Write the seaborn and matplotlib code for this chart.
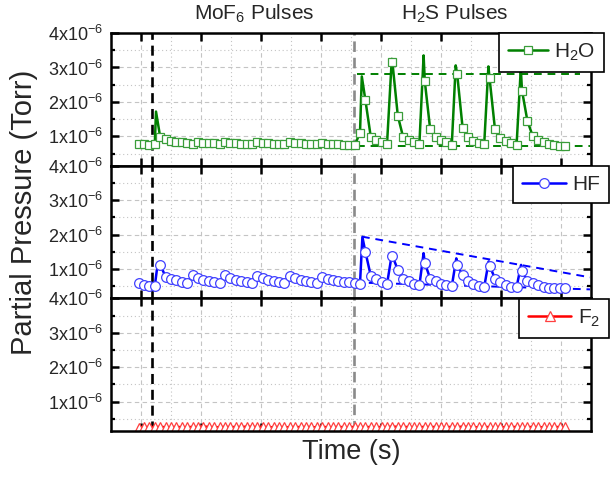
import matplotlib
matplotlib.use("Agg")
import matplotlib.pyplot as plt
from matplotlib.lines import Line2D
from matplotlib.ticker import MultipleLocator, FuncFormatter
import pandas as pd
import seaborn as sns

# ---------------- data (pressures in units of 1e-6 Torr, time in s) ----------------
TIME = [-40, 50, 140, 230, 320, 410, 500, 590, 680, 770,
        860, 950, 1040, 1130, 1220, 1310, 1400, 1490, 1580, 1670,
        1760, 1850, 1940, 2030, 2120, 2210, 2300, 2390, 2480, 2570,
        2660, 2750, 2840, 2930, 3020, 3110, 3200, 3290, 3380, 3470,
        3560, 3650, 3740, 3830, 3920, 4010, 4100, 4190, 4280, 4370,
        4460, 4550, 4640, 4730, 4820, 4910, 5000, 5090, 5180, 5270,
        5360, 5450, 5540, 5630, 5720, 5810, 5900, 5990, 6080, 6170,
        6260, 6350, 6440, 6530, 6620, 6710, 6800, 6890, 6980, 7070]

H2O = [0.78, 0.78, 0.76, 0.79, 0.98, 0.93, 0.88, 0.85, 0.83, 0.80,
       0.77, 0.84, 0.82, 0.81, 0.80, 0.79, 0.85, 0.82, 0.80, 0.79,
       0.78, 0.77, 0.83, 0.81, 0.80, 0.79, 0.78, 0.77, 0.83, 0.81,
       0.80, 0.79, 0.78, 0.77, 0.81, 0.79, 0.78, 0.77, 0.76, 0.76,
       0.74, 1.10, 2.05, 0.98, 0.90, 0.83, 0.77, 3.15, 1.60, 0.97,
       0.90, 0.83, 0.78, 2.60, 1.20, 0.97, 0.90, 0.83, 0.76, 2.80,
       1.25, 0.97, 0.88, 0.82, 0.77, 2.68, 1.20, 0.95, 0.87, 0.81,
       0.76, 2.33, 1.45, 1.00, 0.90, 0.84, 0.79, 0.75, 0.72, 0.71]

HF = [0.60, 0.54, 0.51, 0.51, 1.12, 0.78, 0.72, 0.67, 0.62, 0.59,
      0.84, 0.74, 0.68, 0.64, 0.61, 0.59, 0.82, 0.74, 0.68, 0.64,
      0.61, 0.59, 0.80, 0.73, 0.68, 0.64, 0.61, 0.59, 0.80, 0.73,
      0.68, 0.64, 0.61, 0.59, 0.78, 0.72, 0.67, 0.64, 0.62, 0.61,
      0.60, 0.58, 1.50, 0.80, 0.70, 0.63, 0.56, 1.38, 0.98, 0.72,
      0.64, 0.58, 0.53, 1.18, 0.72, 0.64, 0.58, 0.53, 0.50, 1.12,
      0.82, 0.64, 0.56, 0.50, 0.48, 1.10, 0.72, 0.62, 0.54, 0.49,
      0.48, 0.95, 0.66, 0.60, 0.53, 0.49, 0.46, 0.45, 0.45, 0.44]

F2 = [0.25, 0.26, 0.27, 0.26, 0.27, 0.26, 0.26, 0.27, 0.26, 0.26,
      0.27, 0.26, 0.28, 0.27, 0.26, 0.26, 0.27, 0.26, 0.27, 0.26,
      0.28, 0.27, 0.26, 0.27, 0.26, 0.26, 0.27, 0.26, 0.26, 0.27,
      0.26, 0.27, 0.26, 0.26, 0.27, 0.26, 0.26, 0.27, 0.26, 0.26,
      0.27, 0.26, 0.27, 0.26, 0.26, 0.27, 0.26, 0.28, 0.27, 0.26,
      0.27, 0.26, 0.26, 0.27, 0.26, 0.27, 0.26, 0.26, 0.27, 0.26,
      0.28, 0.27, 0.26, 0.26, 0.27, 0.26, 0.26, 0.27, 0.26, 0.26,
      0.27, 0.26, 0.26, 0.27, 0.26, 0.26, 0.26, 0.27, 0.26, 0.26]

# spike maxima (line only, no marker)
H2O_PEAK_T = [250, 3680, 4180, 4710, 5245, 5790, 6330]
H2O_PEAK = [1.72, 2.74, 3.25, 3.35, 3.06, 3.03, 2.97]
HF_PEAK_T = [265, 3690, 4180, 4710, 5255, 5795, 6335]
HF_PEAK = [0.98, 1.93, 1.42, 1.46, 1.31, 1.22, 1.12]

# dashed envelope guides
H2O_UPPER_T = [3600, 7320]
H2O_UPPER = [2.82, 2.82]
H2O_LOWER_T = [3600, 7483]
H2O_LOWER = [0.73, 0.73]
HF_UPPER_T = [3683, 7483]
HF_UPPER = [1.94, 0.76]
HF_LOWER_T = [3570, 7483]
HF_LOWER = [0.61, 0.41]

MOF6_START = 183
H2S_START = 3550

Y_TICKS = [1, 2, 3, 4]

# ---------------- style ----------------
sns.set_theme(style="white")
FONT = ["Liberation Sans", "DejaVu Sans"]
plt.rcParams["font.family"] = FONT
plt.rcParams["mathtext.fontset"] = "custom"
plt.rcParams["mathtext.rm"] = "Liberation Sans"
plt.rcParams["mathtext.it"] = "Liberation Sans:italic"
plt.rcParams["mathtext.bf"] = "Liberation Sans:bold"
plt.rcParams["mathtext.default"] = "regular"

GREEN, GREEN_M = "#008000", "#3a9d3a"
BLUE, BLUE_M = "#0000ff", "#4040ff"
RED, RED_M = "#ff0000", "#ff4040"

fig = plt.figure(figsize=(6.11, 4.79), dpi=100)
fig.patch.set_facecolor("white")
gs = fig.add_gridspec(3, 1, left=111 / 611, right=591 / 611,
                      top=1 - 33 / 479, bottom=1 - 431 / 479, hspace=0)
axes = [fig.add_subplot(gs[i]) for i in range(3)]


def series_frame(t, v, pt, pv):
    df = pd.DataFrame({"t": list(t) + list(pt),
                       "p": list(v) + list(pv),
                       "sample": [True] * len(t) + [False] * len(pt)})
    return df.sort_values("t", kind="stable").reset_index(drop=True)


specs = [
    dict(df=series_frame(TIME, H2O, H2O_PEAK_T, H2O_PEAK), color=GREEN, mcol=GREEN_M,
         marker="s", ms=6, label="H$_2$O",
         guides=[(H2O_UPPER_T, H2O_UPPER), (H2O_LOWER_T, H2O_LOWER)],
         anchor=(1.027, 1.0), hl=1.9),
    dict(df=series_frame(TIME, HF, HF_PEAK_T, HF_PEAK), color=BLUE, mcol=BLUE_M,
         marker="o", ms=7, label="HF",
         guides=[(HF_UPPER_T, HF_UPPER), (HF_LOWER_T, HF_LOWER)],
         anchor=(1.037, 0.995), hl=2.1),
    dict(df=series_frame(TIME, F2, [], []), color=RED, mcol=RED_M,
         marker="^", ms=6.5, label="F$_2$", guides=[],
         anchor=(1.037, 0.995), hl=2.1),
]

for ax, sp in zip(axes, specs):
    df = sp["df"]
    mk = list(df.index[df["sample"]])
    for gt, gv in sp["guides"]:
        gdf = pd.DataFrame({"t": gt, "p": gv})
        sns.lineplot(data=gdf, x="t", y="p", ax=ax, color=sp["color"], lw=1.4,
                     linestyle=(0, (4, 3)), estimator=None, sort=False, legend=False,
                     zorder=2)
    ax.axvline(MOF6_START, color="black", lw=1.9, ls=(0, (3.8, 2.2)), zorder=1.5)
    ax.axvline(H2S_START, color="#8a8a8a", lw=1.9, ls=(0, (4.0, 2.2)), zorder=1.5)
    sns.lineplot(data=df, x="t", y="p", ax=ax, color=sp["color"], lw=1.8,
                 marker=sp["marker"], markevery=mk, ms=sp["ms"], mfc="white",
                 mec=sp["mcol"], mew=0.9, estimator=None, sort=False, legend=False,
                 zorder=3)

    ax.set_xlim(-500, 7500)
    ax.set_ylim(0.15, 4.0)
    ax.set_xlabel("")
    ax.set_ylabel("")
    ax.xaxis.set_major_locator(MultipleLocator(1000))
    ax.xaxis.set_minor_locator(MultipleLocator(500))
    ax.set_yticks(Y_TICKS)
    ax.yaxis.set_minor_locator(MultipleLocator(0.5))
    ax.yaxis.set_major_formatter(FuncFormatter(lambda v, p: f"{int(round(v))}x10$^{{-6}}$"))
    ax.grid(which="major", ls=(0, (4, 3)), color="#c4c4c4", lw=0.8)
    ax.grid(which="minor", ls=(0, (1, 2.5)), color="#c4c4c4", lw=0.8)
    ax.set_axisbelow(True)
    for s in ax.spines.values():
        s.set_linewidth(1.8)
        s.set_color("black")
        s.set_zorder(4)
    ax.tick_params(axis="both", which="both", direction="in", top=True, right=True,
                   bottom=True, left=True, color="black")
    ax.tick_params(axis="x", which="major", length=6, width=1.8, labelbottom=False)
    ax.tick_params(axis="x", which="minor", length=0)
    ax.tick_params(axis="y", which="major", length=5.5, width=1.8, labelsize=13, pad=6)
    ax.tick_params(axis="y", which="minor", length=3, width=1.6)
    ax.set_facecolor("white")

    handle = Line2D([], [], color=sp["color"], lw=1.8, marker=sp["marker"],
                    ms=sp["ms"], mfc="white", mec=sp["mcol"], mew=0.9)
    leg = ax.legend([handle], [sp["label"]], loc="upper right",
                    bbox_to_anchor=sp["anchor"], borderaxespad=0, fontsize=15,
                    frameon=True, fancybox=False, framealpha=1, edgecolor="black",
                    handlelength=sp["hl"], handletextpad=0.3, borderpad=0.42)
    leg.get_frame().set_linewidth(1.2)
    leg.set_zorder(10)

fig.text(254 / 611, 1 - 20 / 479, "MoF$_6$ Pulses", ha="center", va="baseline",
         fontsize=15)
fig.text(455 / 611, 1 - 20 / 479, "H$_2$S Pulses", ha="center", va="baseline",
         fontsize=15)
fig.text(351 / 611, 1 - 459 / 479, "Time (s)", ha="center", va="baseline",
         fontsize=19.5)
fig.text(24 / 611, 1 - 212 / 479, "Partial Pressure (Torr)", ha="center",
         va="center", rotation=90, fontsize=21)

fig.savefig("out.png", dpi=100, facecolor="white")
